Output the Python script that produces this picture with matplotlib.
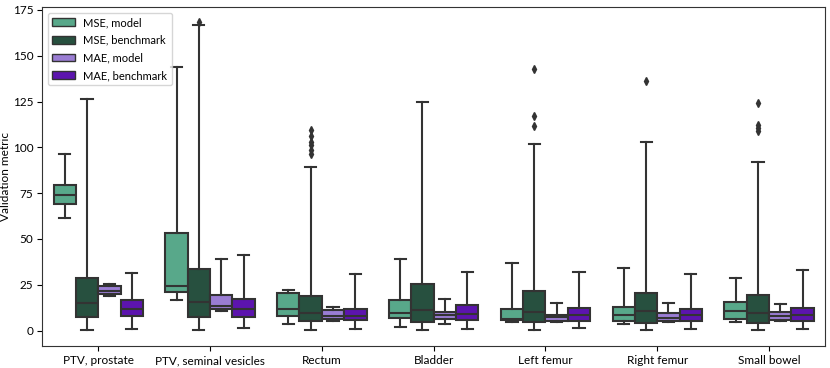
import matplotlib.pyplot as plt
from matplotlib.patches import Patch

categories = ['PTV, prostate', 'PTV, seminal vesicles', 'Rectum', 'Bladder',
              'Left femur', 'Right femur', 'Small bowel']
series = ['MSE, model', 'MSE, benchmark', 'MAE, model', 'MAE, benchmark']
colors = ['#58a88a', '#27503f', '#9a7dd3', '#5c14ae']

# (whisker low, q1, median, q3, whisker high) per category
mse_model = [(61.5, 69.2, 73.8, 79.2, 96.3), (16.4, 20.9, 24.2, 53.1, 144.0),
             (3.8, 7.8, 11.5, 20.5, 22.2), (1.8, 6.9, 9.3, 16.5, 39.0),
             (4.5, 5.6, 6.4, 12.0, 37.0), (3.8, 5.3, 8.6, 12.9, 34.0),
             (4.9, 6.4, 10.7, 15.6, 28.6)]
mse_bench = [(0.2, 7.3, 15.1, 28.9, 126.5), (0.3, 7.3, 15.6, 33.6, 166.5),
             (0.2, 5.1, 9.3, 19.1, 89.5), (0.2, 4.6, 11.1, 25.6, 125.0),
             (0.5, 4.5, 10.0, 21.6, 102.0), (0.2, 4.2, 10.4, 20.7, 103.0),
             (0.2, 4.2, 9.6, 19.5, 92.0)]
mae_model = [(18.7, 19.8, 21.6, 24.2, 25.6), (10.5, 12.0, 13.5, 19.3, 38.8),
             (5.1, 6.4, 8.2, 11.1, 12.9), (3.3, 6.4, 8.7, 10.0, 17.2),
             (4.8, 5.1, 7.5, 8.7, 15.3), (4.5, 5.1, 6.9, 9.3, 14.8),
             (5.3, 6.0, 8.2, 10.0, 14.4)]
mae_bench = [(1.1, 8.2, 11.5, 16.5, 31.2), (1.6, 7.6, 11.8, 17.4, 41.4),
             (1.1, 5.6, 8.2, 11.8, 31.0), (0.9, 5.5, 9.1, 13.8, 32.2),
             (1.5, 5.1, 8.7, 12.4, 32.2), (0.9, 5.1, 8.6, 12.0, 31.0),
             (0.9, 5.1, 8.6, 12.4, 33.2)]

# outliers of the benchmark MSE series, per category
mse_bench_fliers = [[], [168.5], [109.5, 106.0, 103.0, 101.0, 98.5, 96.5], [],
                    [143.0, 117.3, 111.8], [136.3], [124.0, 112.3, 110.8, 108.7]]

all_series = [mse_model, mse_bench, mae_model, mae_bench]
all_fliers = [[[]] * 7, mse_bench_fliers, [[]] * 7, [[]] * 7]

plt.rcParams['font.family'] = ['Lato', 'DejaVu Sans']

fig, ax = plt.subplots(figsize=(8.3, 3.68), dpi=100)
fig.subplots_adjust(left=0.051, right=0.994, top=0.981, bottom=0.06)

edge = '#333333'
for j, (data, fl, col) in enumerate(zip(all_series, all_fliers, colors)):
    stats = []
    for (lo, q1, med, q3, hi), f in zip(data, fl):
        stats.append(dict(whislo=lo, q1=q1, med=med, q3=q3, whishi=hi, fliers=f))
    pos = [i + (j - 1.5) * 0.2 for i in range(len(categories))]
    ax.bxp(stats, positions=pos, widths=0.2, patch_artist=True,
           manage_ticks=False,
           boxprops=dict(facecolor=col, edgecolor=edge, linewidth=1.5),
           medianprops=dict(color=edge, linewidth=1.5),
           whiskerprops=dict(color=edge, linewidth=1.5),
           capprops=dict(color=edge, linewidth=1.5),
           flierprops=dict(marker='d', markerfacecolor=edge,
                           markeredgecolor=edge, markersize=4))

ax.set_xlim(-0.5, len(categories) - 0.5)
ax.set_ylim(-8.4, 176.6)
ax.set_xticks(range(len(categories)))
ax.set_xticklabels(categories, fontsize=8.5)
ax.set_yticks([0, 25, 50, 75, 100, 125, 150, 175])
ax.tick_params(axis='both', labelsize=8.5, pad=3)
ax.set_ylabel('Validation metric', fontsize=8.5)
ax.yaxis.set_label_coords(-0.04, 0.5)
for s in ax.spines.values():
    s.set_color('#333333')

handles = [Patch(facecolor=c, edgecolor=edge, label=l) for c, l in zip(colors, series)]
ax.legend(handles=handles, loc='upper left', fontsize=8, labelspacing=0.6)

fig.savefig('out.png')
